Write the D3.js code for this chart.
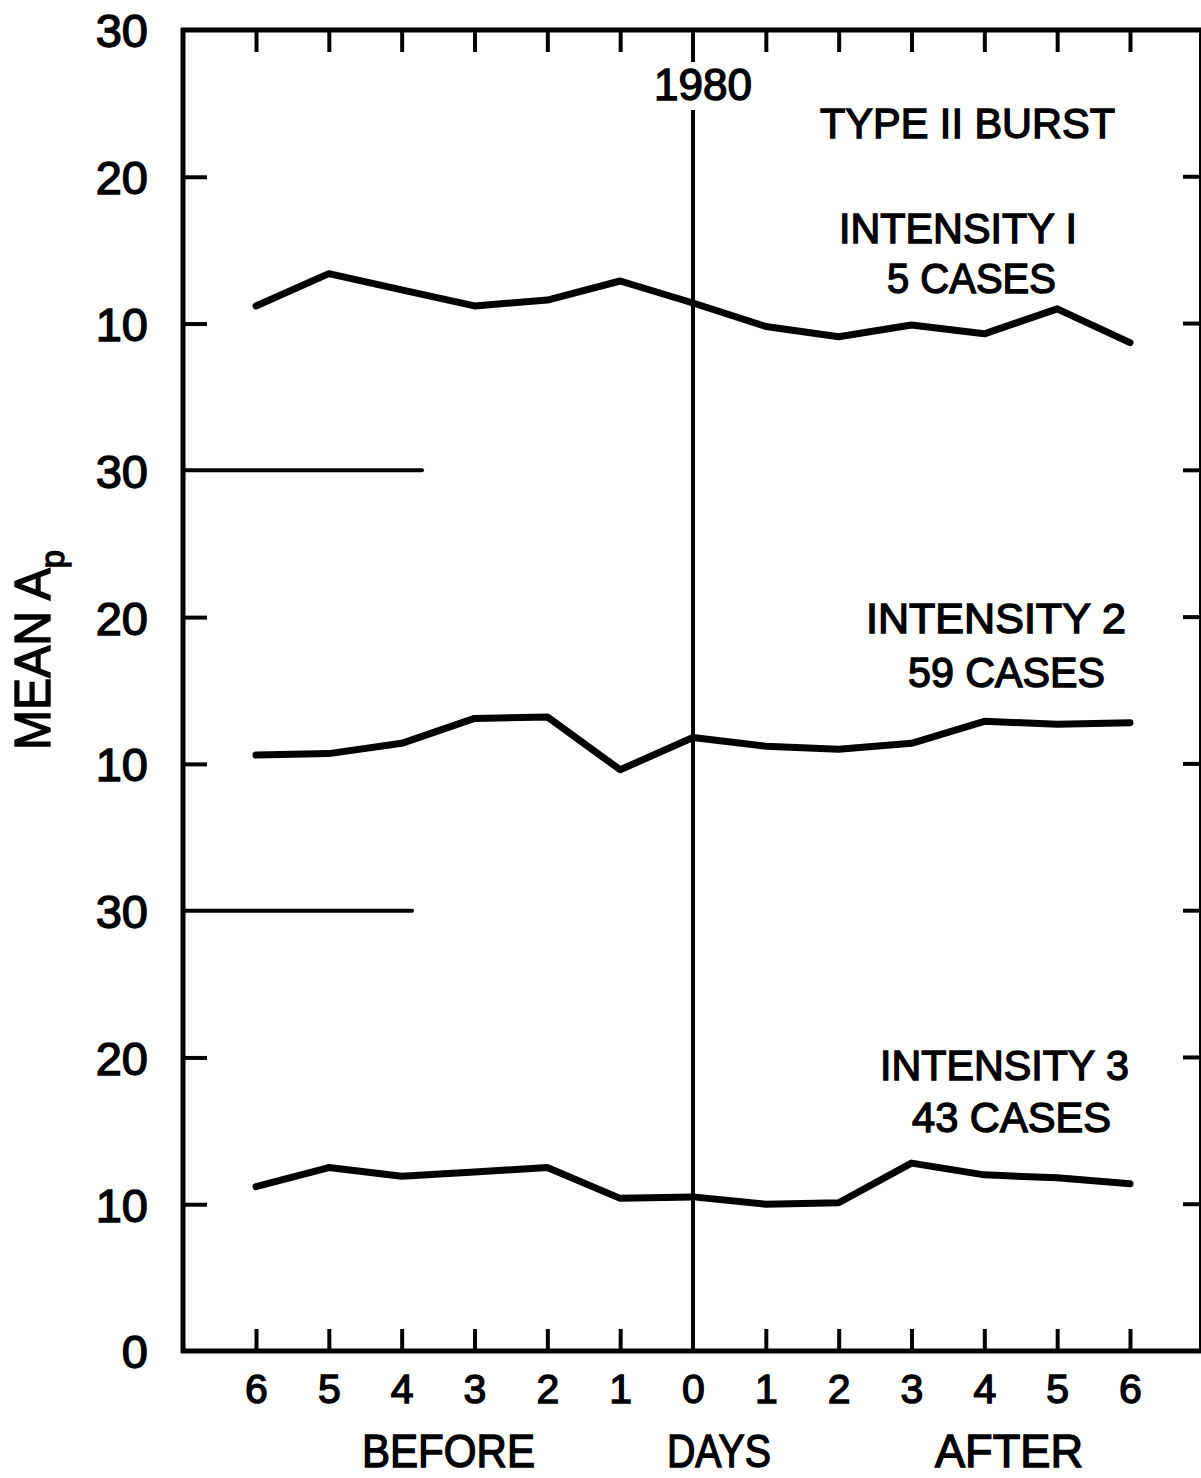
<!DOCTYPE html>
<html>
<head>
<meta charset="utf-8">
<script src="https://cdn.jsdelivr.net/npm/d3@7/dist/d3.min.js"></script>
<style>
  html, body { margin: 0; padding: 0; background: #fff; }
  svg { display: block; }
  text { font-family: "Liberation Sans", "DejaVu Sans", sans-serif; fill: #000; stroke: #000; stroke-width: 1.4px; }
</style>
</head>
<body>
<svg id="chart" width="1201" height="1478"></svg>
<script>
// ---- Data ----
const days = [-6, -5, -4, -3, -2, -1, 0, 1, 2, 3, 4, 5, 6];
const dayLabels = ["6", "5", "4", "3", "2", "1", "0", "1", "2", "3", "4", "5", "6"];
const intensity1 = [11.2, 13.4, 12.3, 11.2, 11.6, 12.9, 11.4, 9.8, 9.1, 9.9, 9.3, 11.0, 8.7];
const intensity2 = [10.6, 10.7, 11.4, 13.1, 13.2, 9.6, 11.8, 11.2, 11.0, 11.4, 12.9, 12.7, 12.8];
const intensity3 = [11.2, 12.5, 11.9, 12.2, 12.5, 10.4, 10.5, 10.0, 10.1, 12.8, 12.0, 11.8, 11.4];
const panelTitles = ["INTENSITY I", "INTENSITY 2", "INTENSITY 3"];
const panelCases = ["5 CASES", "59 CASES", "43 CASES"];
const yTickLabelsStacked = ["0", "10", "20", "30", "10", "20", "30", "10", "20", "30"];

(function () {
const svg = d3.select("#chart");
const mLeft = 183, mRight = 1200, mTop = 30, mBottom = 1351;

const x = d3.scaleLinear().domain([-6, 6]).range([256, 1130]);
// stacked value axis: three panels of 0-30 each
const y = d3.scaleLinear().domain([0, 90]).range([mBottom, mTop]);
const panelOffset = [60, 30, 0];
const series = [intensity1, intensity2, intensity3];

// frame lines
const frame = svg.append("g").attr("stroke", "#000").attr("fill", "none");
frame.append("line").attr("x1", mLeft).attr("x2", mLeft).attr("y1", mTop - 2).attr("y2", mBottom + 2).attr("stroke-width", 5);
frame.append("line").attr("x1", mLeft - 2).attr("x2", mRight + 1).attr("y1", mTop).attr("y2", mTop).attr("stroke-width", 5);
frame.append("line").attr("x1", mLeft - 2).attr("x2", mRight + 1).attr("y1", mBottom).attr("y2", mBottom).attr("stroke-width", 5);
frame.append("line").attr("x1", mRight).attr("x2", mRight).attr("y1", mTop).attr("y2", mBottom).attr("stroke-width", 2);

// panel separators at 30 of lower panels
[[60, 422], [30, 412]].forEach(([v, xe]) => {
  frame.append("line").attr("x1", mLeft).attr("x2", xe).attr("y1", y(v)).attr("y2", y(v))
    .attr("stroke-width", 4).attr("stroke-linecap", "round");
});

// bottom x axis with inward ticks
const xBottom = d3.axisBottom(x).tickValues(days).tickSize(0).tickPadding(0)
  .tickFormat((d, i) => dayLabels[i]);
const gxb = svg.append("g").attr("transform", `translate(0,${mBottom})`).call(xBottom);
gxb.select(".domain").remove();
gxb.selectAll(".tick line").remove();
gxb.selectAll(".tick text").attr("y", 52).attr("dy", null).attr("font-size", 41)
  .attr("font-family", "Liberation Sans, sans-serif");
gxb.selectAll(".tick").filter(d => d !== 0).append("line")
  .attr("y1", 0).attr("y2", -22).attr("stroke", "#000").attr("stroke-width", 4);

// top ticks
const xTop = d3.axisTop(x).tickValues(days.filter(d => d !== 0)).tickSize(0).tickFormat("");
const gxt = svg.append("g").attr("transform", `translate(0,${mTop})`).call(xTop);
gxt.select(".domain").remove();
gxt.selectAll(".tick").append("line").attr("y1", 0).attr("y2", 22).attr("stroke", "#000").attr("stroke-width", 4);

// left y axis labels
const yTicks = d3.range(0, 91, 10);
const yAxis = d3.axisLeft(y).tickValues(yTicks).tickSize(0).tickPadding(0)
  .tickFormat((d, i) => yTickLabelsStacked[i]);
const gy = svg.append("g").attr("transform", `translate(${mLeft},0)`).call(yAxis);
gy.select(".domain").remove();
gy.selectAll(".tick text").attr("x", -35).attr("dy", "0.36em").attr("font-size", 47)
  .attr("text-anchor", "end").attr("font-family", "Liberation Sans, sans-serif");
// inward left ticks at 10 and 20 of each panel
gy.selectAll(".tick").filter(d => d % 30 !== 0).append("line")
  .attr("x1", 0).attr("x2", 24).attr("stroke", "#000").attr("stroke-width", 4);

// right ticks (inward)
const rightTicks = yTicks.filter(d => d > 0 && d < 90);
svg.append("g").selectAll("line").data(rightTicks).join("line")
  .attr("x1", mRight - 17).attr("x2", mRight).attr("y1", d => y(d)).attr("y2", d => y(d))
  .attr("stroke", "#000").attr("stroke-width", 4);

// day 0 vertical line with gap for "1980"
frame.append("line").attr("x1", x(0)).attr("x2", x(0)).attr("y1", mTop).attr("y2", 62).attr("stroke-width", 4);
frame.append("line").attr("x1", x(0)).attr("x2", x(0)).attr("y1", 110).attr("y2", mBottom).attr("stroke-width", 4);
svg.append("text").attr("x", 703).attr("y", 100).attr("text-anchor", "middle")
  .attr("font-size", 44).attr("textLength", 98).attr("lengthAdjust", "spacingAndGlyphs").text("1980");

// series lines
const line = d3.line().x((d, i) => x(days[i]));
series.forEach((s, k) => {
  svg.append("path").datum(s)
    .attr("d", line.y(d => y(d + panelOffset[k])))
    .attr("fill", "none").attr("stroke", "#000").attr("stroke-width", 7)
    .attr("stroke-linejoin", "round").attr("stroke-linecap", "round");
});

// annotations
function label(txt, xl, xr, yb, size) {
  svg.append("text").attr("x", xl).attr("y", yb).attr("font-size", size)
    .attr("textLength", xr - xl).attr("lengthAdjust", "spacingAndGlyphs").text(txt);
}
label("TYPE II BURST", 820, 1115, 138, 42);
const titlePos = [[839, 1077, 243], [866, 1126, 633], [880, 1129, 1080]];
const casePos = [[887, 1056, 293], [908, 1105, 687], [912, 1111, 1132]];
panelTitles.forEach((t, k) => label(t, titlePos[k][0], titlePos[k][1], titlePos[k][2], 42));
panelCases.forEach((t, k) => label(t, casePos[k][0], casePos[k][1], casePos[k][2], 42));

// x axis captions
label("BEFORE", 362, 535, 1467, 46);
label("DAYS", 667, 771, 1467, 46);
label("AFTER", 935, 1083, 1467, 46);

// y axis title
const yt = svg.append("text").attr("transform", "translate(50,750) rotate(-90)").attr("font-size", 50)
  .attr("textLength", 200).attr("lengthAdjust", "spacingAndGlyphs");
yt.append("tspan").text("MEAN A");
yt.append("tspan").attr("font-size", 34).attr("dy", 14).text("p");
})();
</script>
</body>
</html>
